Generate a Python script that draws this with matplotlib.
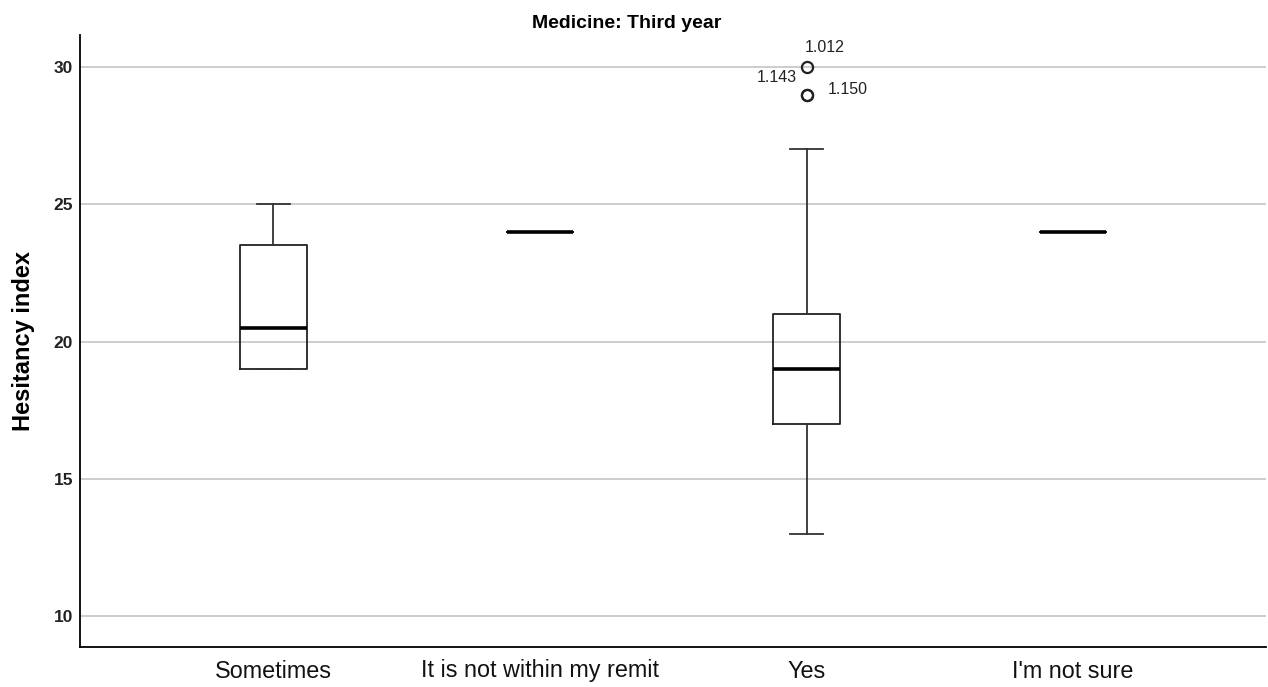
import matplotlib.pyplot as plt

# data
categories = ["Sometimes", "It is not within my remit", "Yes", "I'm not sure"]
q1 = [19, 24, 17, 24]
med = [20.5, 24, 19, 24]
q3 = [23.5, 24, 21, 24]
whislo = [19, 24, 13, 24]
whishi = [25, 24, 27, 24]
fliers = [[], [], [30, 29, 29], []]
flier_ids = ["1.012", "1.143", "1.150"]

plt.rcParams['font.family'] = ['Liberation Sans', 'DejaVu Sans']

fig = plt.figure(figsize=(12.68, 6.87), dpi=100)
ax = fig.add_axes([80 / 1268, 40 / 687, 1186 / 1268, 612 / 687])

stats = []
for i, name in enumerate(categories):
    stats.append(dict(label=name, q1=q1[i], med=med[i], q3=q3[i],
                      whislo=whislo[i], whishi=whishi[i], fliers=fliers[i]))

pos = [1, 2, 3, 4]
ax.bxp(stats, positions=pos, widths=0.251, patch_artist=False,
       boxprops=dict(color="#222222", linewidth=1.3),
       whiskerprops=dict(color="#333333", linewidth=1.3),
       capprops=dict(color="#333333", linewidth=1.3),
       medianprops=dict(color="black", linewidth=2.6, solid_capstyle="butt"),
       flierprops=dict(marker="o", markersize=8, markerfacecolor="none",
                       markeredgecolor="#222222", markeredgewidth=1.6),
       zorder=3)

# outlier case labels
ax.annotate(flier_ids[0], (3, fliers[2][0]), xytext=(-1, 14), textcoords="offset points",
            fontsize=11.5, color="#222222", va="center", ha="left")
ax.annotate(flier_ids[1], (3, fliers[2][1]), xytext=(-7, 12), textcoords="offset points",
            fontsize=11.5, color="#222222", va="center", ha="right")
ax.annotate(flier_ids[2], (3, fliers[2][2]), xytext=(15, 3.5), textcoords="offset points",
            fontsize=11.5, color="#222222", va="center", ha="left")

ax.set_xlim(0.274, 4.724)
ax.set_ylim(8.87, 31.17)
ax.set_yticks([10, 15, 20, 25, 30])
ax.set_xticks(pos)
ax.set_xticklabels(categories, fontsize=16.8, color="#111111")
ax.tick_params(axis="both", length=0)
ax.tick_params(axis="x", pad=9)
ax.tick_params(axis="y", pad=5, labelsize=12.5)
for lab in ax.get_yticklabels():
    lab.set_fontweight("bold")
    lab.set_color("#222222")

ax.grid(axis="y", color="#c0c0c0", linewidth=1.1, zorder=0)
ax.set_axisbelow(True)
ax.spines["top"].set_visible(False)
ax.spines["right"].set_visible(False)
ax.spines["left"].set_linewidth(1.3)
ax.spines["bottom"].set_linewidth(1.3)

ax.set_ylabel("Hesitancy index", fontsize=17, fontweight="bold")
ax.yaxis.set_label_coords(-0.038, 0.5)
fig.text(627 / 1268, 1 - 28 / 687, "Medicine: Third year", fontsize=14,
         fontweight="bold", ha="center", va="baseline")

fig.savefig("out.png", dpi=100)
